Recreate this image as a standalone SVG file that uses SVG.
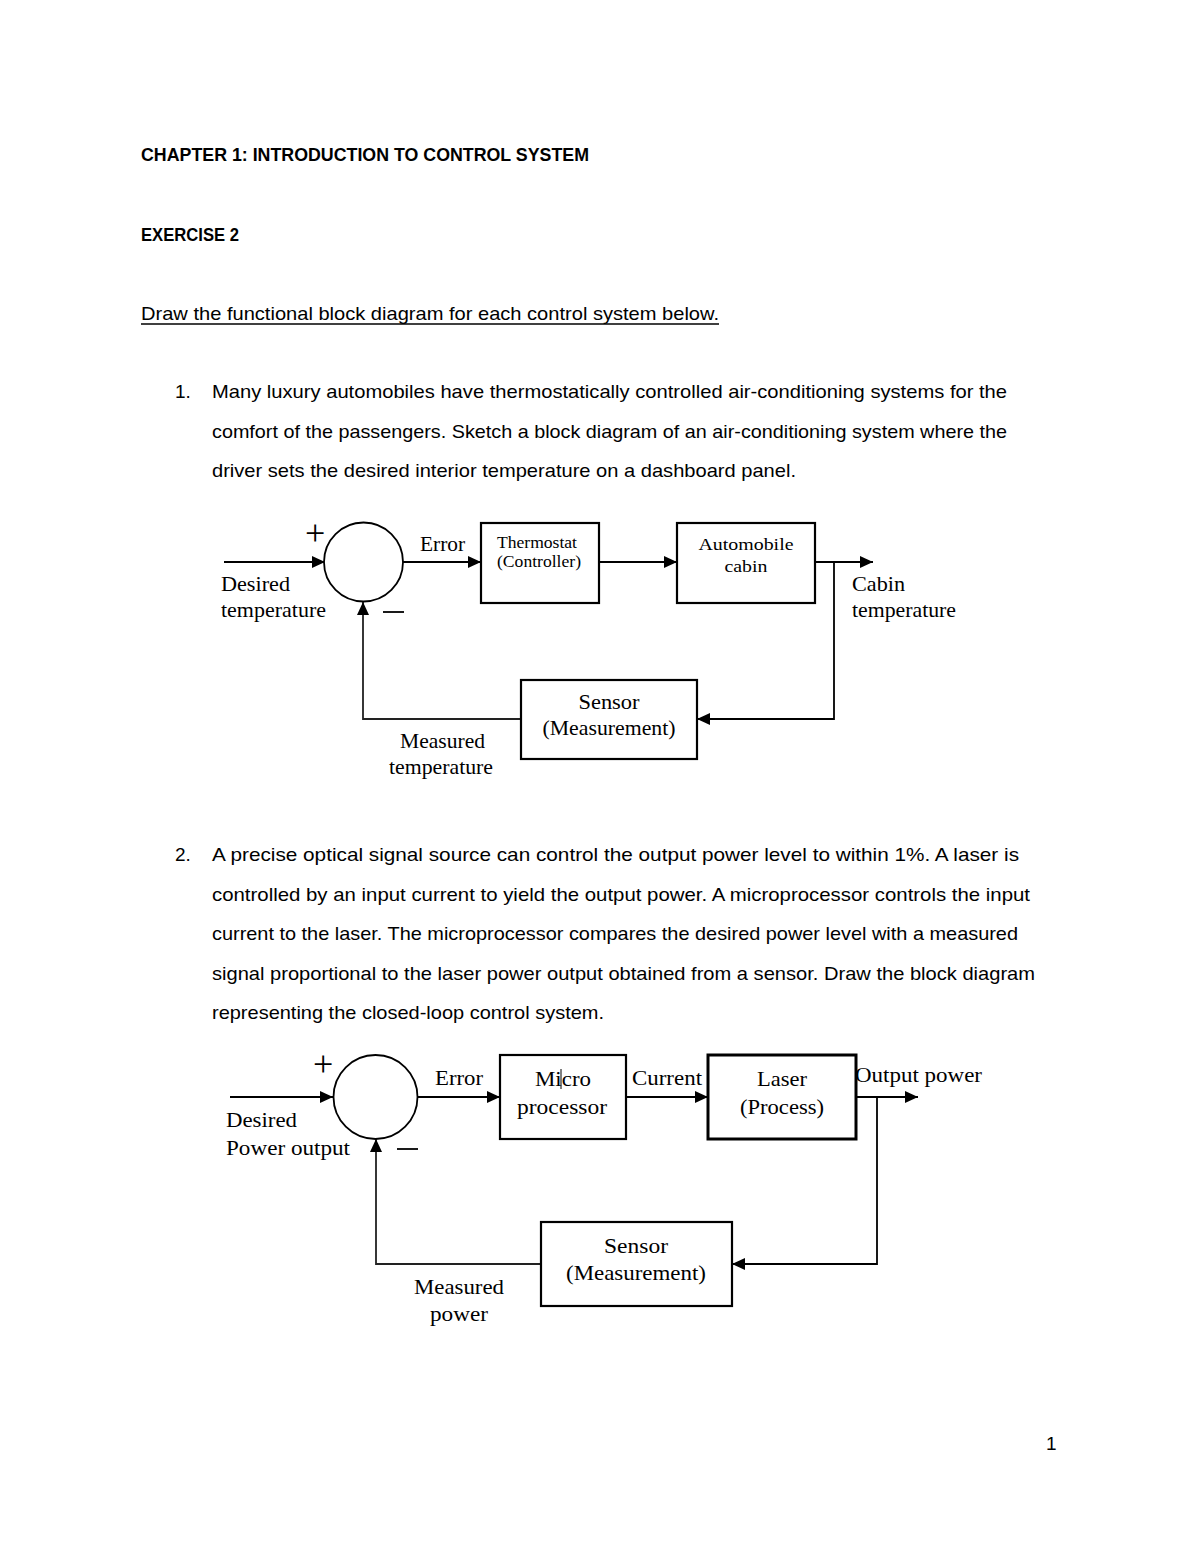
<svg xmlns="http://www.w3.org/2000/svg" width="1200" height="1553" viewBox="0 0 1200 1553">
<defs>
<marker id="ah" markerUnits="userSpaceOnUse" markerWidth="14" markerHeight="12" refX="13" refY="6" orient="auto">
<path d="M0,0 L13,6 L0,12 Z" fill="#000"/>
</marker>
<style>
.body{font-family:"Liberation Sans",Arial,sans-serif;font-size:19px;fill:#000}
.bold{font-family:"Liberation Sans",Arial,sans-serif;font-size:18px;font-weight:bold;fill:#000}
.lbl{font-family:"Liberation Serif","Times New Roman",serif;font-size:21px;fill:#000}
.sm{font-family:"Liberation Serif","Times New Roman",serif;font-size:17px;fill:#000}
.sign{font-family:"Liberation Serif","Times New Roman",serif;font-size:36px;fill:#000}
.box{fill:#fff;stroke:#000;stroke-width:2.2}
.wire{fill:none;stroke:#000;stroke-width:1.8}
.fb{fill:none;stroke:#222;stroke-width:1.8}
</style>
</defs>
<rect width="1200" height="1553" fill="#fff"/>

<g id="header">
<text class="bold" x="141" y="161" textLength="448" lengthAdjust="spacingAndGlyphs">CHAPTER 1: INTRODUCTION TO CONTROL SYSTEM</text>
<text class="bold" x="141" y="241" textLength="98" lengthAdjust="spacingAndGlyphs">EXERCISE 2</text>
<text class="body" x="141" y="320" textLength="578" lengthAdjust="spacingAndGlyphs">Draw the functional block diagram for each control system below.</text>
<line x1="141" y1="324" x2="719" y2="324" stroke="#000" stroke-width="1.5"/>
</g>

<g id="question1">
<text class="body" x="175" y="398">1.</text>
<text class="body" x="212" y="398" textLength="795" lengthAdjust="spacingAndGlyphs">Many luxury automobiles have thermostatically controlled air-conditioning systems for the</text>
<text class="body" x="212" y="438" textLength="795" lengthAdjust="spacingAndGlyphs">comfort of the passengers. Sketch a block diagram of an air-conditioning system where the</text>
<text class="body" x="212" y="477" textLength="584" lengthAdjust="spacingAndGlyphs">driver sets the desired interior temperature on a dashboard panel.</text>
</g>

<g id="connectors1">
<line class="wire" x1="224" y1="562" x2="325" y2="562" marker-end="url(#ah)"/>
<line class="wire" x1="403" y1="562" x2="481" y2="562" marker-end="url(#ah)"/>
<line class="wire" x1="599" y1="562" x2="677" y2="562" marker-end="url(#ah)"/>
<line class="wire" x1="815" y1="562" x2="873" y2="562" marker-end="url(#ah)"/>
<polyline class="wire" points="834,562 834,719 697,719" marker-end="url(#ah)"/>
<polyline class="fb" points="521,719 363,719 363,602" marker-end="url(#ah)"/>
</g>

<g id="sum1">
<circle cx="363.5" cy="562" r="39.5" fill="#fff" stroke="#000" stroke-width="1.8"/>
<text class="sign" x="305" y="545">+</text>
<line x1="383" y1="612" x2="404" y2="612" stroke="#000" stroke-width="1.8"/>
</g>

<g id="thermostat">
<rect class="box" x="481" y="523" width="118" height="80"/>
<text class="sm" x="537" y="548" text-anchor="middle" textLength="80" lengthAdjust="spacingAndGlyphs">Thermostat</text>
<text class="sm" x="539" y="567" text-anchor="middle" textLength="84" lengthAdjust="spacingAndGlyphs">(Controller)</text>
</g>

<g id="cabin">
<rect class="box" x="677" y="523" width="138" height="80"/>
<text class="sm" x="746" y="550" text-anchor="middle" font-size="19" textLength="95" lengthAdjust="spacingAndGlyphs">Automobile</text>
<text class="sm" x="746" y="572" text-anchor="middle" font-size="19" textLength="43" lengthAdjust="spacingAndGlyphs">cabin</text>
</g>

<g id="sensor1">
<rect class="box" x="521" y="680" width="176" height="79"/>
<text class="lbl" x="609" y="709" text-anchor="middle" textLength="61" lengthAdjust="spacingAndGlyphs">Sensor</text>
<text class="lbl" x="609" y="735" text-anchor="middle" textLength="133" lengthAdjust="spacingAndGlyphs">(Measurement)</text>
</g>

<g id="labels1">
<text class="lbl" x="420" y="551" textLength="45" lengthAdjust="spacingAndGlyphs">Error</text>
<text class="lbl" x="221" y="591" textLength="69" lengthAdjust="spacingAndGlyphs">Desired</text>
<text class="lbl" x="221" y="617" textLength="105" lengthAdjust="spacingAndGlyphs">temperature</text>
<text class="lbl" x="852" y="591" textLength="53" lengthAdjust="spacingAndGlyphs">Cabin</text>
<text class="lbl" x="852" y="617" textLength="104" lengthAdjust="spacingAndGlyphs">temperature</text>
<text class="lbl" x="400" y="748" textLength="85" lengthAdjust="spacingAndGlyphs">Measured</text>
<text class="lbl" x="389" y="774" textLength="104" lengthAdjust="spacingAndGlyphs">temperature</text>
</g>

<g id="question2">
<text class="body" x="175" y="861">2.</text>
<text class="body" x="212" y="861" textLength="807" lengthAdjust="spacingAndGlyphs">A precise optical signal source can control the output power level to within 1%.  A laser is</text>
<text class="body" x="212" y="901" textLength="818" lengthAdjust="spacingAndGlyphs">controlled by an input current to yield the output power. A microprocessor controls the input</text>
<text class="body" x="212" y="940" textLength="806" lengthAdjust="spacingAndGlyphs">current to the laser. The microprocessor compares the desired power level with a measured</text>
<text class="body" x="212" y="980" textLength="823" lengthAdjust="spacingAndGlyphs">signal proportional to the laser power output obtained from a sensor. Draw the block diagram</text>
<text class="body" x="212" y="1019" textLength="392" lengthAdjust="spacingAndGlyphs">representing the closed-loop control system.</text>
</g>

<g id="connectors2">
<line class="wire" x1="230" y1="1097" x2="333" y2="1097" marker-end="url(#ah)"/>
<line class="wire" x1="418" y1="1097" x2="500" y2="1097" marker-end="url(#ah)"/>
<line class="wire" x1="626" y1="1097" x2="708" y2="1097" marker-end="url(#ah)"/>
<line class="wire" x1="856" y1="1097" x2="918" y2="1097" marker-end="url(#ah)"/>
<polyline class="wire" points="877,1097 877,1264 732,1264" marker-end="url(#ah)"/>
<polyline class="fb" points="541,1264 376,1264 376,1139" marker-end="url(#ah)"/>
</g>

<g id="sum2">
<circle cx="375.5" cy="1097" r="42" fill="#fff" stroke="#000" stroke-width="1.8"/>
<text class="sign" x="313" y="1076">+</text>
<line x1="397" y1="1149" x2="418" y2="1149" stroke="#000" stroke-width="1.8"/>
</g>

<g id="microprocessor">
<rect class="box" x="500" y="1055" width="126" height="84"/>
<text class="lbl" x="563" y="1086" text-anchor="middle" textLength="56" lengthAdjust="spacingAndGlyphs">Micro</text>
<line x1="561" y1="1069" x2="561" y2="1089" stroke="#000" stroke-width="1"/>
<text class="lbl" x="562" y="1114" text-anchor="middle" textLength="90" lengthAdjust="spacingAndGlyphs">processor</text>
</g>

<g id="laser">
<rect x="708" y="1055" width="148" height="84" fill="#fff" stroke="#000" stroke-width="3"/>
<text class="lbl" x="782" y="1086" text-anchor="middle" textLength="50" lengthAdjust="spacingAndGlyphs">Laser</text>
<text class="lbl" x="782" y="1114" text-anchor="middle" textLength="84" lengthAdjust="spacingAndGlyphs">(Process)</text>
</g>

<g id="sensor2">
<rect class="box" x="541" y="1222" width="191" height="84"/>
<text class="lbl" x="636" y="1253" text-anchor="middle" textLength="64" lengthAdjust="spacingAndGlyphs">Sensor</text>
<text class="lbl" x="636" y="1280" text-anchor="middle" textLength="140" lengthAdjust="spacingAndGlyphs">(Measurement)</text>
</g>

<g id="labels2">
<text class="lbl" x="435" y="1085" textLength="48" lengthAdjust="spacingAndGlyphs">Error</text>
<text class="lbl" x="632" y="1085" textLength="70" lengthAdjust="spacingAndGlyphs">Current</text>
<text class="lbl" x="855" y="1082" textLength="127" lengthAdjust="spacingAndGlyphs">Output power</text>
<text class="lbl" x="226" y="1127" textLength="71" lengthAdjust="spacingAndGlyphs">Desired</text>
<text class="lbl" x="226" y="1155" textLength="124" lengthAdjust="spacingAndGlyphs">Power output</text>
<text class="lbl" x="414" y="1294" textLength="90" lengthAdjust="spacingAndGlyphs">Measured</text>
<text class="lbl" x="430" y="1321" textLength="58" lengthAdjust="spacingAndGlyphs">power</text>
</g>

<g id="footer">
<text class="body" x="1046" y="1450">1</text>
</g>
</svg>
